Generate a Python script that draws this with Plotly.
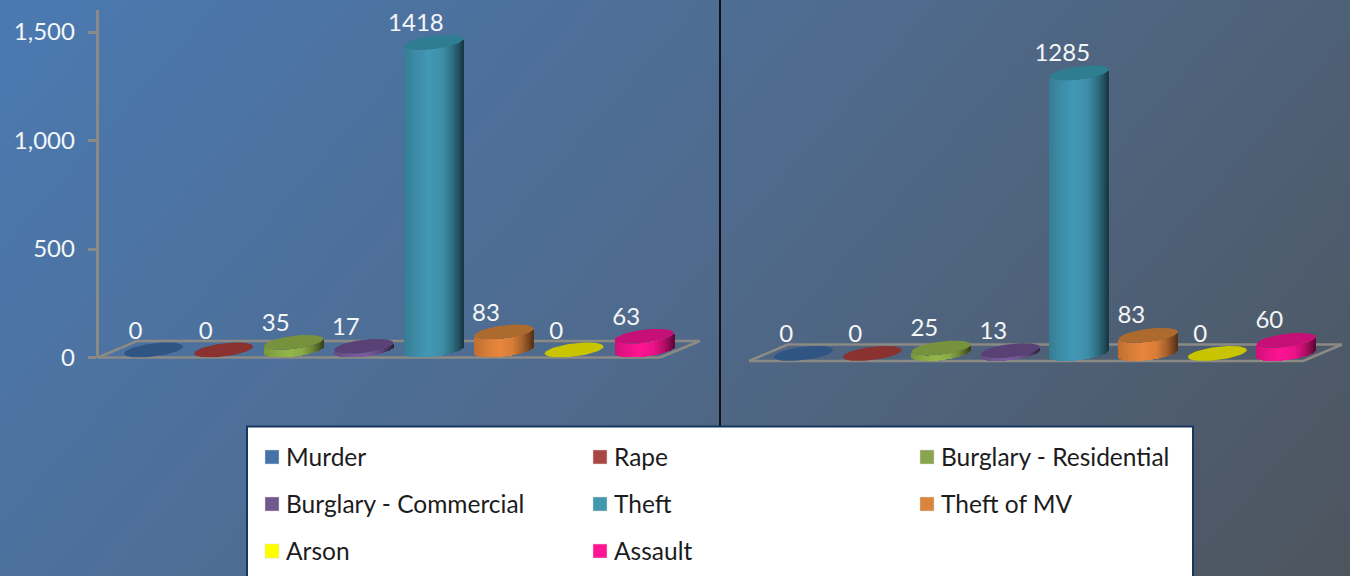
import numpy as np
import plotly.graph_objects as go
from urllib.parse import quote

categories = ["Murder", "Rape", "Burglary - Residential", "Burglary - Commercial",
              "Theft", "Theft of MV", "Arson", "Assault"]
values_left = [0, 0, 35, 17, 1418, 83, 0, 63]
values_right = [0, 0, 25, 13, 1285, 83, 0, 60]
tick_values = [0, 500, 1000, 1500]
body_colors = ["#4572a7", "#aa4643", "#94b74a", "#7a5c9e", "#4299b5", "#e8873c", "#ffff00", "#ff1493"]
top_colors = ["#2f5585", "#8a3230", "#76923c", "#5a4175", "#2f7d90", "#ad6a2f", "#c8c400", "#c70f78"]
legend_colors = ["#4572a7", "#aa4643", "#89a54e", "#71588f", "#4198af", "#db843d", "#ffff00", "#ff1493"]

W, H = 1350, 576
FONT = "Lato"
TEXT = "#f4f6f8"
GRAY = "#8b8a85"


def px(x):
    return x / W


def py(y):
    return 1 - y / H


def shade(col, f):
    r, g, b = int(col[1:3], 16), int(col[3:5], 16), int(col[5:7], 16)
    return "rgb(%d,%d,%d)" % (r * f, g * f, b * f)


PROFILE_U = [-1, -0.6, -0.15, 0.3, 0.65, 0.88, 1]
PROFILE_F = [0.82, 0.92, 1.0, 0.93, 0.72, 0.5, 0.36]

fig = go.Figure()


def panel(values, xa, ya, step, k, label_dx, label_up):
    semi = 29.5          # ellipse half width, px
    tilt = 3.5           # rise of the right end, px
    minor = 6.6          # half height, px
    depth = 7.5 / k      # centre of the base ellipse above the axis zero
    n = 59
    u = (np.arange(n) + 0.5) / n * 2 - 1
    offs = u * semi / step
    strip = 2 * semi / step / n * 1.3
    t = np.linspace(0, 2 * np.pi, 73)
    for i, v in enumerate(values):
        lower = (tilt * u - minor * np.sqrt(1 - u ** 2)) / k
        fade = np.interp(u, PROFILE_U, PROFILE_F)
        if v > 0:
            fig.add_trace(go.Bar(
                x=(i + offs).tolist(), y=[v] * n, base=(depth + lower).tolist(),
                width=[strip] * n, xaxis=xa, yaxis=ya, showlegend=False, name=categories[i],
                marker=dict(color=[shade(body_colors[i], f) for f in fade], line=dict(width=0)),
                hoverinfo="skip"))
        fig.add_trace(go.Scatter(
            x=(i + semi / step * np.cos(t)).tolist(),
            y=(v + depth + (tilt * np.cos(t) + minor * np.sin(t)) / k).tolist(),
            mode="lines", fill="toself", fillcolor=top_colors[i], line=dict(width=0),
            xaxis=xa, yaxis=ya, showlegend=False, name=categories[i], hoverinfo="skip"))
    fig.add_trace(go.Scatter(
        x=[i + label_dx / step for i in range(len(values))],
        y=[v + depth + label_up / k for v in values],
        text=[str(v) for v in values], mode="text", textposition="middle center",
        textfont=dict(family=FONT, size=24, color=TEXT), cliponaxis=False,
        xaxis=xa, yaxis=ya, showlegend=False, hoverinfo="skip"))


K_LEFT = (357.5 - 32) / 1500
K_RIGHT = 0.2183
panel(values_left, "x", "y", 70.1, K_LEFT, -18, 17)
panel(values_right, "x2", "y2", 69.0, K_RIGHT, -17, 18)

svg = ("<svg xmlns='http://www.w3.org/2000/svg' width='1350' height='576' viewBox='0 0 1350 576'>"
       "<defs><linearGradient id='g' gradientUnits='userSpaceOnUse' x1='130' y1='-190' x2='1220' y2='766'>"
       "<stop offset='0' stop-color='#4a7ab3'/><stop offset='0.5' stop-color='#4f6a8c'/>"
       "<stop offset='1' stop-color='#4d545c'/></linearGradient></defs>"
       "<rect width='1350' height='576' fill='url(#g)'/></svg>")

shapes = []


def seg(x0, y0, x1, y1, color=GRAY, width=2.5):
    shapes.append(dict(type="line", xref="paper", yref="paper", layer="below",
                       x0=px(x0), y0=py(y0), x1=px(x1), y1=py(y1),
                       line=dict(color=color, width=width)))


# floors
seg(98, 357.5, 660, 357.5); seg(98, 357.5, 137, 341); seg(137, 341, 700, 341); seg(660, 357.5, 700, 341)
seg(749, 361, 1303, 361); seg(749, 361, 788, 344.5); seg(788, 344.5, 1342, 344.5); seg(1303, 361, 1342, 344.5)
# divider
seg(720, 0, 720, 426, "#111111", 2)
# legend box
shapes.append(dict(type="rect", xref="paper", yref="paper", layer="above",
                   x0=px(247), x1=px(1193), y0=py(600), y1=py(426.5),
                   fillcolor="#ffffff", line=dict(color="#17375e", width=2)))

annotations = []
col_swatch = [265, 593, 920]
row_y = [457, 504, 551]
for idx, name in enumerate(categories):
    c, r = idx % 3, idx // 3
    shapes.append(dict(type="rect", xref="paper", yref="paper", layer="above",
                       x0=px(col_swatch[c]), x1=px(col_swatch[c] + 14),
                       y0=py(row_y[r] + 7), y1=py(row_y[r] - 7),
                       fillcolor=legend_colors[idx], line=dict(color="#d8d8d8", width=0.5)))
    annotations.append(dict(xref="paper", yref="paper", x=px(col_swatch[c] + 19), y=py(row_y[r] - 1),
                            text=name, showarrow=False, xanchor="left", yanchor="middle",
                            font=dict(family=FONT, size=24.5, color="#1c1c1c")))

fig.update_layout(
    width=W, height=H, autosize=False, margin=dict(l=0, r=0, t=0, b=0),
    paper_bgcolor="#4f6a8c", plot_bgcolor="rgba(0,0,0,0)", barmode="overlay", bargap=0,
    showlegend=False, shapes=shapes, annotations=annotations,
    images=[dict(source="data:image/svg+xml," + quote(svg), xref="paper", yref="paper",
                 x=0, y=1, sizex=1, sizey=1, sizing="stretch", layer="below",
                 xanchor="left", yanchor="top")],
    xaxis=dict(domain=[px(98.5), px(700)], range=[(98.5 - 153.5) / 70.1, (700 - 153.5) / 70.1],
               visible=False, fixedrange=True),
    yaxis=dict(domain=[py(357.5), py(10)], range=[0, (357.5 - 10) / K_LEFT], showgrid=False, zeroline=False,
               showline=True, linecolor=GRAY, linewidth=2.5, ticks="outside", ticklen=8, tickwidth=2.5,
               tickcolor=GRAY, tickvals=tick_values, tickformat=",", automargin=False, ticklabelstandoff=8,
               tickfont=dict(family=FONT, size=24, color=TEXT)),
    xaxis2=dict(domain=[px(745), px(1345)], range=[(745 - 803.3) / 69.0, (1345 - 803.3) / 69.0],
                visible=False, anchor="y2", fixedrange=True),
    yaxis2=dict(domain=[py(361), py(10)], range=[0, (361 - 10) / K_RIGHT], visible=False, anchor="x2"),
)

fig.write_html("out.html", post_script="document.body.style.margin='0';document.body.style.overflow='hidden';",
               config=dict(displayModeBar=False))
